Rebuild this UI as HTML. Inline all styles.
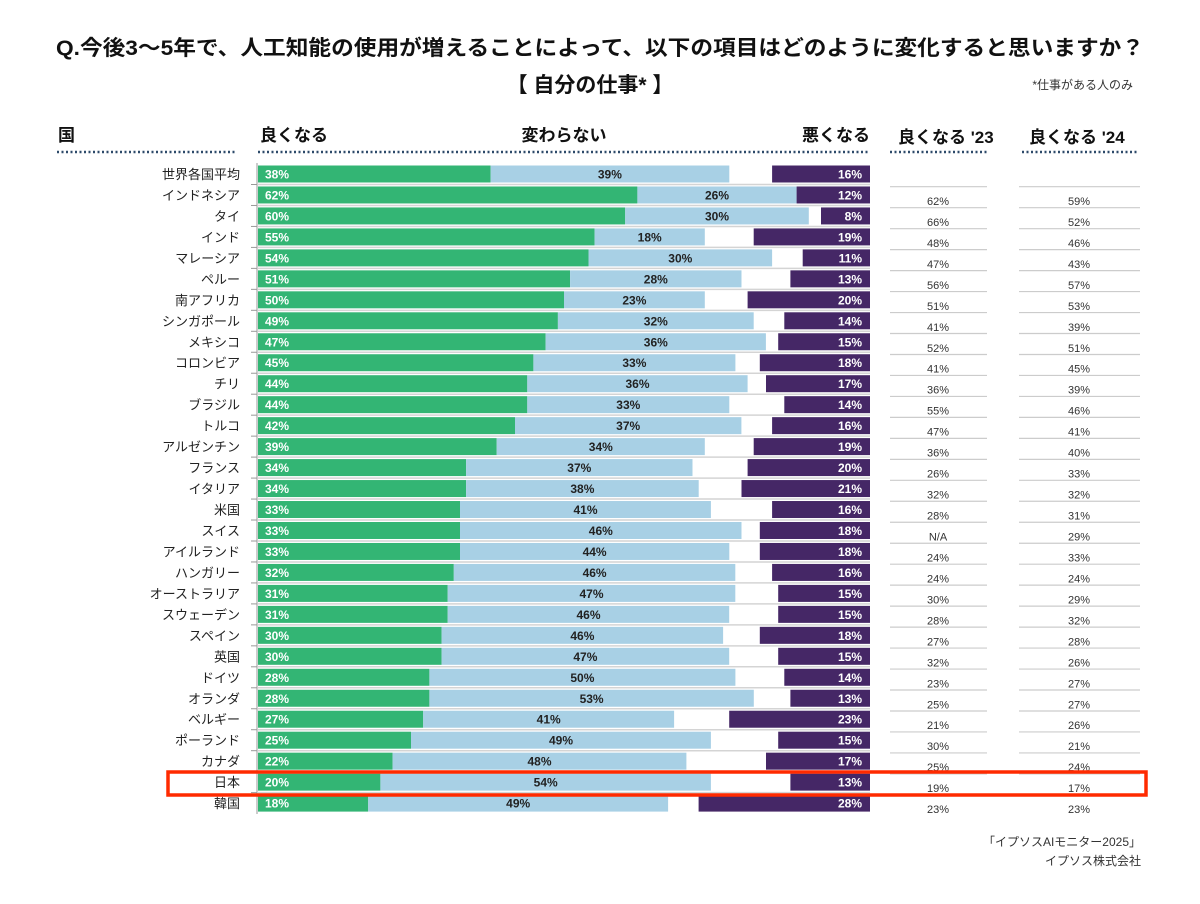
<!DOCTYPE html>
<html><head><meta charset="utf-8"><style>
html,body{margin:0;padding:0;background:#fff}
svg{display:block;font-family:"Liberation Sans","Noto Sans CJK JP",sans-serif}
.g{fill:#33b574}.n{fill:#a8d0e5}.b{fill:#452766}
.tg{fill:#fff;font-weight:bold;font-size:12px}
.tn{fill:#222;font-weight:bold;font-size:12px;text-anchor:middle}
.tb{fill:#fff;font-weight:bold;font-size:12px;text-anchor:end}
.lab{fill:#222;font-size:13px;text-anchor:end}
.v{fill:#333;font-size:11px;text-anchor:middle}
.hd{fill:#111;font-weight:bold;font-size:17px}
</style></head><body>
<svg width="1200" height="904" viewBox="0 0 1200 904" xmlns="http://www.w3.org/2000/svg">
<text x="600" y="55" text-anchor="middle" font-size="21" font-weight="bold" fill="#111" textLength="1088" lengthAdjust="spacingAndGlyphs">Q.今後3～5年で、人工知能の使用が増えることによって、以下の項目はどのように変化すると思いますか？</text>
<text x="590" y="92" text-anchor="middle" font-size="21" font-weight="bold" fill="#111">【 自分の仕事* 】</text>
<text x="1133" y="89" text-anchor="end" font-size="12" fill="#333">*仕事がある人のみ</text>
<text x="58" y="141" class="hd">国</text>
<text x="260" y="141" class="hd">良くなる</text>
<text x="564" y="141" class="hd" text-anchor="middle">変わらない</text>
<text x="870" y="141" class="hd" text-anchor="end">悪くなる</text>
<text x="898" y="143" class="hd">良くなる '23</text>
<text x="1029" y="143" class="hd">良くなる '24</text>
<g stroke="#2d4a6a" stroke-width="2.5" stroke-dasharray="2 2.5">
<line x1="57" y1="152" x2="237" y2="152"/><line x1="258" y1="152" x2="870" y2="152"/>
<line x1="890" y1="152" x2="987" y2="152"/><line x1="1022" y1="152" x2="1138" y2="152"/>
</g>
<line x1="257" y1="163" x2="257" y2="814" stroke="#999" stroke-width="1"/>
<g stroke="#ccc" stroke-width="1.2">
<line x1="890" y1="186.7" x2="987" y2="186.7"/><line x1="1019" y1="186.7" x2="1140" y2="186.7"/>
</g>
<defs><g id="sep"><line x1="258" y1="10.5" x2="870" y2="10.5" stroke="#d4d4d4" stroke-width="1.5"/><line x1="251" y1="10.5" x2="257" y2="10.5" stroke="#999"/><line x1="890" y1="33.7" x2="987" y2="33.7" stroke="#ccc" stroke-width="1.2"/><line x1="1019" y1="33.7" x2="1140" y2="33.7" stroke="#ccc" stroke-width="1.2"/></g>
<g id="sep2"><line x1="258" y1="10.5" x2="870" y2="10.5" stroke="#d4d4d4" stroke-width="1.5"/><line x1="251" y1="10.5" x2="257" y2="10.5" stroke="#999"/></g></defs>

<g transform="translate(0,174)"><use href="#sep"/><text x="240" y="5" class="lab">世界各国平均</text><rect x="258" y="-8.5" width="232.6" height="17" class="g"/><rect x="490.6" y="-8.5" width="238.7" height="17" class="n"/><rect x="772.1" y="-8.5" width="97.9" height="17" class="b"/><text x="265" y="4.5" class="tg">38%</text><text x="609.9" y="4.5" class="tn">39%</text><text x="862" y="4.5" class="tb">16%</text></g>
<g transform="translate(0,194.97)"><use href="#sep"/><text x="240" y="5" class="lab">インドネシア</text><rect x="258" y="-8.5" width="379.4" height="17" class="g"/><rect x="637.4" y="-8.5" width="159.1" height="17" class="n"/><rect x="796.6" y="-8.5" width="73.4" height="17" class="b"/><text x="265" y="4.5" class="tg">62%</text><text x="717" y="4.5" class="tn">26%</text><text x="862" y="4.5" class="tb">12%</text><text x="938" y="10" class="v">62%</text><text x="1079" y="10" class="v">59%</text></g>
<g transform="translate(0,215.94)"><use href="#sep"/><text x="240" y="5" class="lab">タイ</text><rect x="258" y="-8.5" width="367.2" height="17" class="g"/><rect x="625.2" y="-8.5" width="183.6" height="17" class="n"/><rect x="821" y="-8.5" width="49" height="17" class="b"/><text x="265" y="4.5" class="tg">60%</text><text x="717" y="4.5" class="tn">30%</text><text x="862" y="4.5" class="tb">8%</text><text x="938" y="10" class="v">66%</text><text x="1079" y="10" class="v">52%</text></g>
<g transform="translate(0,236.91)"><use href="#sep"/><text x="240" y="5" class="lab">インド</text><rect x="258" y="-8.5" width="336.6" height="17" class="g"/><rect x="594.6" y="-8.5" width="110.2" height="17" class="n"/><rect x="753.7" y="-8.5" width="116.3" height="17" class="b"/><text x="265" y="4.5" class="tg">55%</text><text x="649.7" y="4.5" class="tn">18%</text><text x="862" y="4.5" class="tb">19%</text><text x="938" y="10" class="v">48%</text><text x="1079" y="10" class="v">46%</text></g>
<g transform="translate(0,257.88)"><use href="#sep"/><text x="240" y="5" class="lab">マレーシア</text><rect x="258" y="-8.5" width="330.5" height="17" class="g"/><rect x="588.5" y="-8.5" width="183.6" height="17" class="n"/><rect x="802.7" y="-8.5" width="67.3" height="17" class="b"/><text x="265" y="4.5" class="tg">54%</text><text x="680.3" y="4.5" class="tn">30%</text><text x="862" y="4.5" class="tb">11%</text><text x="938" y="10" class="v">47%</text><text x="1079" y="10" class="v">43%</text></g>
<g transform="translate(0,278.85)"><use href="#sep"/><text x="240" y="5" class="lab">ペルー</text><rect x="258" y="-8.5" width="312.1" height="17" class="g"/><rect x="570.1" y="-8.5" width="171.4" height="17" class="n"/><rect x="790.4" y="-8.5" width="79.6" height="17" class="b"/><text x="265" y="4.5" class="tg">51%</text><text x="655.8" y="4.5" class="tn">28%</text><text x="862" y="4.5" class="tb">13%</text><text x="938" y="10" class="v">56%</text><text x="1079" y="10" class="v">57%</text></g>
<g transform="translate(0,299.82)"><use href="#sep"/><text x="240" y="5" class="lab">南アフリカ</text><rect x="258" y="-8.5" width="306" height="17" class="g"/><rect x="564" y="-8.5" width="140.8" height="17" class="n"/><rect x="747.6" y="-8.5" width="122.4" height="17" class="b"/><text x="265" y="4.5" class="tg">50%</text><text x="634.4" y="4.5" class="tn">23%</text><text x="862" y="4.5" class="tb">20%</text><text x="938" y="10" class="v">51%</text><text x="1079" y="10" class="v">53%</text></g>
<g transform="translate(0,320.79)"><use href="#sep"/><text x="240" y="5" class="lab">シンガポール</text><rect x="258" y="-8.5" width="299.9" height="17" class="g"/><rect x="557.9" y="-8.5" width="195.8" height="17" class="n"/><rect x="784.3" y="-8.5" width="85.7" height="17" class="b"/><text x="265" y="4.5" class="tg">49%</text><text x="655.8" y="4.5" class="tn">32%</text><text x="862" y="4.5" class="tb">14%</text><text x="938" y="10" class="v">41%</text><text x="1079" y="10" class="v">39%</text></g>
<g transform="translate(0,341.76)"><use href="#sep"/><text x="240" y="5" class="lab">メキシコ</text><rect x="258" y="-8.5" width="287.6" height="17" class="g"/><rect x="545.6" y="-8.5" width="220.3" height="17" class="n"/><rect x="778.2" y="-8.5" width="91.8" height="17" class="b"/><text x="265" y="4.5" class="tg">47%</text><text x="655.8" y="4.5" class="tn">36%</text><text x="862" y="4.5" class="tb">15%</text><text x="938" y="10" class="v">52%</text><text x="1079" y="10" class="v">51%</text></g>
<g transform="translate(0,362.73)"><use href="#sep"/><text x="240" y="5" class="lab">コロンビア</text><rect x="258" y="-8.5" width="275.4" height="17" class="g"/><rect x="533.4" y="-8.5" width="202" height="17" class="n"/><rect x="759.8" y="-8.5" width="110.2" height="17" class="b"/><text x="265" y="4.5" class="tg">45%</text><text x="634.4" y="4.5" class="tn">33%</text><text x="862" y="4.5" class="tb">18%</text><text x="938" y="10" class="v">41%</text><text x="1079" y="10" class="v">45%</text></g>
<g transform="translate(0,383.7)"><use href="#sep"/><text x="240" y="5" class="lab">チリ</text><rect x="258" y="-8.5" width="269.3" height="17" class="g"/><rect x="527.3" y="-8.5" width="220.3" height="17" class="n"/><rect x="766" y="-8.5" width="104" height="17" class="b"/><text x="265" y="4.5" class="tg">44%</text><text x="637.5" y="4.5" class="tn">36%</text><text x="862" y="4.5" class="tb">17%</text><text x="938" y="10" class="v">36%</text><text x="1079" y="10" class="v">39%</text></g>
<g transform="translate(0,404.67)"><use href="#sep"/><text x="240" y="5" class="lab">ブラジル</text><rect x="258" y="-8.5" width="269.3" height="17" class="g"/><rect x="527.3" y="-8.5" width="202" height="17" class="n"/><rect x="784.3" y="-8.5" width="85.7" height="17" class="b"/><text x="265" y="4.5" class="tg">44%</text><text x="628.3" y="4.5" class="tn">33%</text><text x="862" y="4.5" class="tb">14%</text><text x="938" y="10" class="v">55%</text><text x="1079" y="10" class="v">46%</text></g>
<g transform="translate(0,425.64)"><use href="#sep"/><text x="240" y="5" class="lab">トルコ</text><rect x="258" y="-8.5" width="257" height="17" class="g"/><rect x="515" y="-8.5" width="226.4" height="17" class="n"/><rect x="772.1" y="-8.5" width="97.9" height="17" class="b"/><text x="265" y="4.5" class="tg">42%</text><text x="628.2" y="4.5" class="tn">37%</text><text x="862" y="4.5" class="tb">16%</text><text x="938" y="10" class="v">47%</text><text x="1079" y="10" class="v">41%</text></g>
<g transform="translate(0,446.61)"><use href="#sep"/><text x="240" y="5" class="lab">アルゼンチン</text><rect x="258" y="-8.5" width="238.7" height="17" class="g"/><rect x="496.7" y="-8.5" width="208.1" height="17" class="n"/><rect x="753.7" y="-8.5" width="116.3" height="17" class="b"/><text x="265" y="4.5" class="tg">39%</text><text x="600.8" y="4.5" class="tn">34%</text><text x="862" y="4.5" class="tb">19%</text><text x="938" y="10" class="v">36%</text><text x="1079" y="10" class="v">40%</text></g>
<g transform="translate(0,467.58)"><use href="#sep"/><text x="240" y="5" class="lab">フランス</text><rect x="258" y="-8.5" width="208.1" height="17" class="g"/><rect x="466.1" y="-8.5" width="226.4" height="17" class="n"/><rect x="747.6" y="-8.5" width="122.4" height="17" class="b"/><text x="265" y="4.5" class="tg">34%</text><text x="579.3" y="4.5" class="tn">37%</text><text x="862" y="4.5" class="tb">20%</text><text x="938" y="10" class="v">26%</text><text x="1079" y="10" class="v">33%</text></g>
<g transform="translate(0,488.55)"><use href="#sep"/><text x="240" y="5" class="lab">イタリア</text><rect x="258" y="-8.5" width="208.1" height="17" class="g"/><rect x="466.1" y="-8.5" width="232.6" height="17" class="n"/><rect x="741.5" y="-8.5" width="128.5" height="17" class="b"/><text x="265" y="4.5" class="tg">34%</text><text x="582.4" y="4.5" class="tn">38%</text><text x="862" y="4.5" class="tb">21%</text><text x="938" y="10" class="v">32%</text><text x="1079" y="10" class="v">32%</text></g>
<g transform="translate(0,509.52)"><use href="#sep"/><text x="240" y="5" class="lab">米国</text><rect x="258" y="-8.5" width="202" height="17" class="g"/><rect x="460" y="-8.5" width="250.9" height="17" class="n"/><rect x="772.1" y="-8.5" width="97.9" height="17" class="b"/><text x="265" y="4.5" class="tg">33%</text><text x="585.5" y="4.5" class="tn">41%</text><text x="862" y="4.5" class="tb">16%</text><text x="938" y="10" class="v">28%</text><text x="1079" y="10" class="v">31%</text></g>
<g transform="translate(0,530.49)"><use href="#sep"/><text x="240" y="5" class="lab">スイス</text><rect x="258" y="-8.5" width="202" height="17" class="g"/><rect x="460" y="-8.5" width="281.5" height="17" class="n"/><rect x="759.8" y="-8.5" width="110.2" height="17" class="b"/><text x="265" y="4.5" class="tg">33%</text><text x="600.8" y="4.5" class="tn">46%</text><text x="862" y="4.5" class="tb">18%</text><text x="938" y="10" class="v">N/A</text><text x="1079" y="10" class="v">29%</text></g>
<g transform="translate(0,551.46)"><use href="#sep"/><text x="240" y="5" class="lab">アイルランド</text><rect x="258" y="-8.5" width="202" height="17" class="g"/><rect x="460" y="-8.5" width="269.3" height="17" class="n"/><rect x="759.8" y="-8.5" width="110.2" height="17" class="b"/><text x="265" y="4.5" class="tg">33%</text><text x="594.6" y="4.5" class="tn">44%</text><text x="862" y="4.5" class="tb">18%</text><text x="938" y="10" class="v">24%</text><text x="1079" y="10" class="v">33%</text></g>
<g transform="translate(0,572.43)"><use href="#sep"/><text x="240" y="5" class="lab">ハンガリー</text><rect x="258" y="-8.5" width="195.8" height="17" class="g"/><rect x="453.8" y="-8.5" width="281.5" height="17" class="n"/><rect x="772.1" y="-8.5" width="97.9" height="17" class="b"/><text x="265" y="4.5" class="tg">32%</text><text x="594.6" y="4.5" class="tn">46%</text><text x="862" y="4.5" class="tb">16%</text><text x="938" y="10" class="v">24%</text><text x="1079" y="10" class="v">24%</text></g>
<g transform="translate(0,593.4)"><use href="#sep"/><text x="240" y="5" class="lab">オーストラリア</text><rect x="258" y="-8.5" width="189.7" height="17" class="g"/><rect x="447.7" y="-8.5" width="287.6" height="17" class="n"/><rect x="778.2" y="-8.5" width="91.8" height="17" class="b"/><text x="265" y="4.5" class="tg">31%</text><text x="591.5" y="4.5" class="tn">47%</text><text x="862" y="4.5" class="tb">15%</text><text x="938" y="10" class="v">30%</text><text x="1079" y="10" class="v">29%</text></g>
<g transform="translate(0,614.37)"><use href="#sep"/><text x="240" y="5" class="lab">スウェーデン</text><rect x="258" y="-8.5" width="189.7" height="17" class="g"/><rect x="447.7" y="-8.5" width="281.5" height="17" class="n"/><rect x="778.2" y="-8.5" width="91.8" height="17" class="b"/><text x="265" y="4.5" class="tg">31%</text><text x="588.5" y="4.5" class="tn">46%</text><text x="862" y="4.5" class="tb">15%</text><text x="938" y="10" class="v">28%</text><text x="1079" y="10" class="v">32%</text></g>
<g transform="translate(0,635.34)"><use href="#sep"/><text x="240" y="5" class="lab">スペイン</text><rect x="258" y="-8.5" width="183.6" height="17" class="g"/><rect x="441.6" y="-8.5" width="281.5" height="17" class="n"/><rect x="759.8" y="-8.5" width="110.2" height="17" class="b"/><text x="265" y="4.5" class="tg">30%</text><text x="582.4" y="4.5" class="tn">46%</text><text x="862" y="4.5" class="tb">18%</text><text x="938" y="10" class="v">27%</text><text x="1079" y="10" class="v">28%</text></g>
<g transform="translate(0,656.31)"><use href="#sep"/><text x="240" y="5" class="lab">英国</text><rect x="258" y="-8.5" width="183.6" height="17" class="g"/><rect x="441.6" y="-8.5" width="287.6" height="17" class="n"/><rect x="778.2" y="-8.5" width="91.8" height="17" class="b"/><text x="265" y="4.5" class="tg">30%</text><text x="585.4" y="4.5" class="tn">47%</text><text x="862" y="4.5" class="tb">15%</text><text x="938" y="10" class="v">32%</text><text x="1079" y="10" class="v">26%</text></g>
<g transform="translate(0,677.28)"><use href="#sep"/><text x="240" y="5" class="lab">ドイツ</text><rect x="258" y="-8.5" width="171.4" height="17" class="g"/><rect x="429.4" y="-8.5" width="306" height="17" class="n"/><rect x="784.3" y="-8.5" width="85.7" height="17" class="b"/><text x="265" y="4.5" class="tg">28%</text><text x="582.4" y="4.5" class="tn">50%</text><text x="862" y="4.5" class="tb">14%</text><text x="938" y="10" class="v">23%</text><text x="1079" y="10" class="v">27%</text></g>
<g transform="translate(0,698.25)"><use href="#sep"/><text x="240" y="5" class="lab">オランダ</text><rect x="258" y="-8.5" width="171.4" height="17" class="g"/><rect x="429.4" y="-8.5" width="324.4" height="17" class="n"/><rect x="790.4" y="-8.5" width="79.6" height="17" class="b"/><text x="265" y="4.5" class="tg">28%</text><text x="591.6" y="4.5" class="tn">53%</text><text x="862" y="4.5" class="tb">13%</text><text x="938" y="10" class="v">25%</text><text x="1079" y="10" class="v">27%</text></g>
<g transform="translate(0,719.22)"><use href="#sep"/><text x="240" y="5" class="lab">ベルギー</text><rect x="258" y="-8.5" width="165.2" height="17" class="g"/><rect x="423.2" y="-8.5" width="250.9" height="17" class="n"/><rect x="729.2" y="-8.5" width="140.8" height="17" class="b"/><text x="265" y="4.5" class="tg">27%</text><text x="548.7" y="4.5" class="tn">41%</text><text x="862" y="4.5" class="tb">23%</text><text x="938" y="10" class="v">21%</text><text x="1079" y="10" class="v">26%</text></g>
<g transform="translate(0,740.19)"><use href="#sep"/><text x="240" y="5" class="lab">ポーランド</text><rect x="258" y="-8.5" width="153" height="17" class="g"/><rect x="411" y="-8.5" width="299.9" height="17" class="n"/><rect x="778.2" y="-8.5" width="91.8" height="17" class="b"/><text x="265" y="4.5" class="tg">25%</text><text x="561" y="4.5" class="tn">49%</text><text x="862" y="4.5" class="tb">15%</text><text x="938" y="10" class="v">30%</text><text x="1079" y="10" class="v">21%</text></g>
<g transform="translate(0,761.16)"><use href="#sep"/><text x="240" y="5" class="lab">カナダ</text><rect x="258" y="-8.5" width="134.6" height="17" class="g"/><rect x="392.6" y="-8.5" width="293.8" height="17" class="n"/><rect x="766" y="-8.5" width="104" height="17" class="b"/><text x="265" y="4.5" class="tg">22%</text><text x="539.5" y="4.5" class="tn">48%</text><text x="862" y="4.5" class="tb">17%</text><text x="938" y="10" class="v">25%</text><text x="1079" y="10" class="v">24%</text></g>
<g transform="translate(0,782.13)"><use href="#sep2"/><text x="240" y="5" class="lab">日本</text><rect x="258" y="-8.5" width="122.4" height="17" class="g"/><rect x="380.4" y="-8.5" width="330.5" height="17" class="n"/><rect x="790.4" y="-8.5" width="79.6" height="17" class="b"/><text x="265" y="4.5" class="tg">20%</text><text x="545.7" y="4.5" class="tn">54%</text><text x="862" y="4.5" class="tb">13%</text><text x="938" y="10" class="v">19%</text><text x="1079" y="10" class="v">17%</text></g>
<g transform="translate(0,803.1)"><text x="240" y="5" class="lab">韓国</text><rect x="258" y="-8.5" width="110.2" height="17" class="g"/><rect x="368.2" y="-8.5" width="299.9" height="17" class="n"/><rect x="698.6" y="-8.5" width="171.4" height="17" class="b"/><text x="265" y="4.5" class="tg">18%</text><text x="518.2" y="4.5" class="tn">49%</text><text x="862" y="4.5" class="tb">28%</text><text x="938" y="10" class="v">23%</text><text x="1079" y="10" class="v">23%</text></g>

<rect x="168" y="772" width="978" height="23" fill="none" stroke="#ff2a00" stroke-width="3.5"/>
<text x="1141" y="846" text-anchor="end" font-size="12" fill="#333">「イプソスAIモニター2025」</text>
<text x="1141" y="865" text-anchor="end" font-size="12" fill="#333">イプソス株式会社</text>
</svg>
</body></html>
